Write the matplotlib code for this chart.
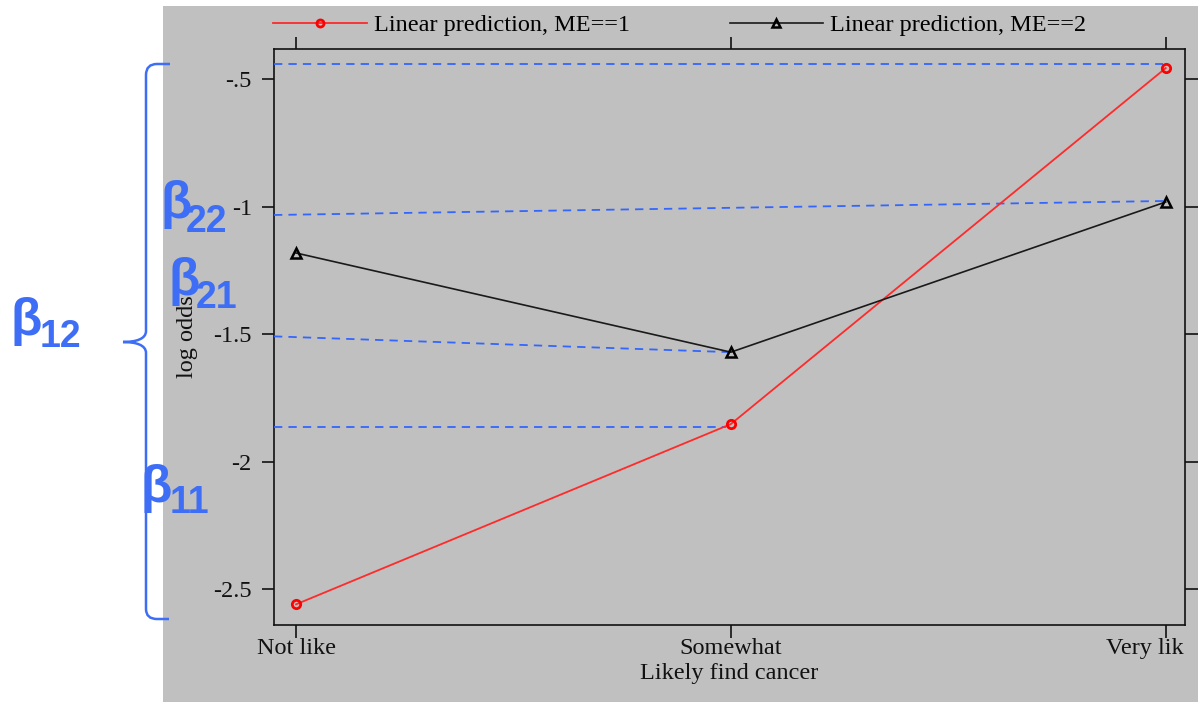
import matplotlib
matplotlib.use("Agg")
import matplotlib.pyplot as plt
from matplotlib.path import Path
from matplotlib.patches import PathPatch, Rectangle
from matplotlib.transforms import ScaledTranslation

plt.rcParams['font.family'] = ['Liberation Serif', 'DejaVu Serif']
plt.rcParams['axes.unicode_minus'] = False

# ---- data ----
categories = ["Not like", "Somewhat", "Very lik"]
me1 = [-2.56, -1.853, -0.457]
me2 = [-1.182, -1.571, -0.982]
ytick_vals = [-2.5, -2.0, -1.5, -1.0, -0.5]
ytick_labels = ["-2.5", "-2", "-1.5", "-1", "-.5"]
series_labels = ["Linear prediction, ME==1", "Linear prediction, ME==2"]
# annotation reference lines (x end, y start, y end); start at left edge of plot
ref_x_end = [1.994, 2.0, 1.0, 0.99]
ref_y_start = [-0.439, -1.033, -1.509, -1.864]
ref_y_end = [-0.439, -0.978, -1.571, -1.864]
beta_labels = [("β", "12"), ("β", "22"), ("β", "21"), ("β", "11")]

FS = 17.5
W, H = 1198, 702
fig = plt.figure(figsize=(W / 100, H / 100), dpi=100, facecolor='white')

# background overlay (pixel coords)
bg = fig.add_axes([0, 0, 1, 1], zorder=-10)
bg.set_xlim(0, W); bg.set_ylim(H, 0); bg.axis('off')
bg.add_patch(Rectangle((163, 6), W - 163, H - 6, facecolor='#c0c0c0', edgecolor='none'))

# main axes
L, R, T, B = 274, 1185, 49, 625
ax = fig.add_axes([L / W, (H - B) / H, (R - L) / W, (B - T) / H], zorder=1)
ax.set_facecolor('none')

x = list(range(len(categories)))
l1, = ax.plot(x, me1, color='#ff2a2a', lw=1.3, marker='o', ms=6, mfc='none',
              mec='#ff0000', mew=2, label=series_labels[0], zorder=5, clip_on=False)
l2, = ax.plot(x, me2, color='#1a1a1a', lw=1.2, marker='^', ms=7.5, mfc='none',
              mec='black', mew=1.8, label=series_labels[1], zorder=5, clip_on=False)

ax.set_xlim(-0.0506, 2.0444)
ax.set_ylim(-2.641, -0.382)
xl = ax.get_xlim()[0]
for xe, ys, ye in zip(ref_x_end, ref_y_start, ref_y_end):
    ax.plot([xl, xe], [ys, ye], color='#3366ff', lw=1.3, dashes=(4.6, 3.4),
            zorder=4, clip_on=False)

ax.set_xticks(x)
ax.set_xticklabels(categories, fontsize=FS, color='#111111')
ax.set_yticks(ytick_vals)
ax.set_yticklabels(ytick_labels, fontsize=FS, color='#111111')
ax.tick_params(axis='x', direction='out', length=9, width=1.2, top=True,
               labeltop=False, pad=0.5, color='#111111')
ax.tick_params(axis='y', direction='out', length=9, width=1.2, right=True,
               labelright=False, pad=7, color='#111111')
for s in ax.spines.values():
    s.set_linewidth(1.2)
    s.set_color('#111111')

lab = ax.get_xticklabels()[-1]
lab.set_transform(lab.get_transform() + ScaledTranslation(-0.207, 0, fig.dpi_scale_trans))

ax.set_xlabel("Likely find cancer", fontsize=FS, labelpad=3, color='#111111')
ax.set_ylabel("log odds", fontsize=FS, color='#111111')
ax.yaxis.set_label_coords((198 - L) / (R - L), 0.5)

leg = ax.legend(handles=[l1, l2], loc='center left', ncol=2, frameon=False,
                bbox_to_anchor=(273 / W, 1 - 25 / H), bbox_transform=fig.transFigure,
                fontsize=FS, handlelength=3.85, handletextpad=0.3, columnspacing=4.1,
                borderpad=0, borderaxespad=0, numpoints=1, markerscale=0.85)

# foreground overlay (pixel coords) : brace and beta labels
fg = fig.add_axes([0, 0, 1, 1], zorder=10)
fg.set_xlim(0, W); fg.set_ylim(H, 0); fg.axis('off')
fg.patch.set_visible(False)

verts = [(170, 64), (157, 64), (146, 64), (146, 75), (146, 331),
         (146, 339), (136, 342), (123, 342),
         (136, 342), (146, 345), (146, 353),
         (146, 609), (146, 619), (157, 619), (169, 619)]
codes = [Path.MOVETO, Path.LINETO, Path.CURVE3, Path.CURVE3, Path.LINETO,
         Path.CURVE4, Path.CURVE4, Path.CURVE4,
         Path.CURVE4, Path.CURVE4, Path.CURVE4,
         Path.LINETO, Path.CURVE3, Path.CURVE3, Path.LINETO]
fg.add_patch(PathPatch(Path(verts, codes), facecolor='none', edgecolor='#3d6ef5', lw=1.8))

beta_pos = [(11, 335, 40, 347), (160, 218, 186, 232), (168, 295, 196, 308), (140, 502, 170, 513)]
for (b, sub), (bx, by, sx, sy) in zip(beta_labels, beta_pos):
    fg.text(bx, by, b, fontsize=37, fontweight='bold', color='#3d6ef5',
            family=['Liberation Sans', 'DejaVu Sans'], ha='left', va='baseline')
    fg.text(sx, sy, sub, fontsize=27, fontweight='bold', color='#3d6ef5',
            family=['Liberation Sans', 'DejaVu Sans'], ha='left', va='baseline')

fig.savefig("out.png", dpi=100, facecolor='white')
